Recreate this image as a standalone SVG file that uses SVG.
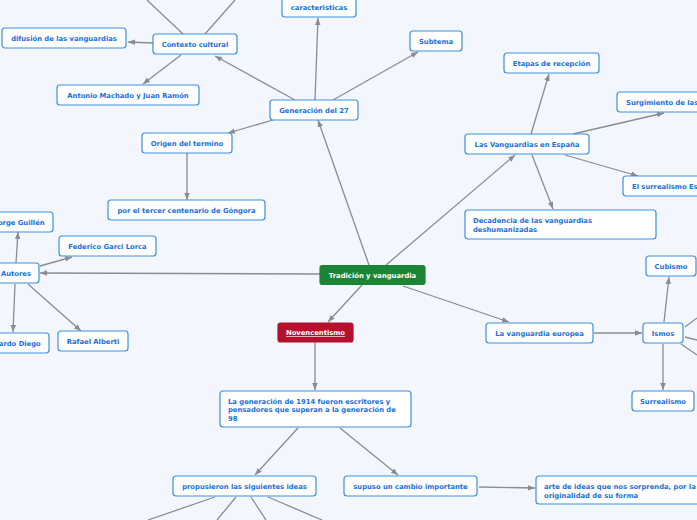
<svg xmlns="http://www.w3.org/2000/svg" width="697" height="520" viewBox="0 0 697 520">
<defs>
<style>
.n rect{fill:#ffffff;stroke:#3d8fe2;stroke-width:1.2}
.n text{font-family:"DejaVu Sans",Verdana,sans-serif;font-weight:bold;font-size:6.8px;fill:#1a6fd8}
.c{text-anchor:middle}
.g rect{fill:#1b8535;stroke:#1b8535}
.r rect{fill:#b5102c;stroke:#b5102c}
.g text,.r text{fill:#ffffff}
#connectors line{stroke:#8c8c8c;stroke-width:1.3;fill:none}
.a{marker-end:url(#ah)}
</style>
<marker id="ah" markerUnits="userSpaceOnUse" markerWidth="8" markerHeight="6" refX="7" refY="2.75" orient="auto">
<path d="M0,0 L7,2.75 L0,5.5 z" fill="#8c8c8c"/>
</marker>
</defs>
<rect x="0" y="0" width="697" height="520" fill="#f3f6fd"/>
<g id="connectors">
<line class="a" x1="369" y1="265" x2="318" y2="120"/>
<line class="a" x1="386" y1="265" x2="515" y2="155"/>
<line class="a" x1="320" y1="274" x2="40" y2="273"/>
<line class="a" x1="362" y1="285" x2="328" y2="322"/>
<line class="a" x1="403" y1="286" x2="509" y2="322"/>
<line class="a" x1="315" y1="100" x2="318" y2="18"/>
<line class="a" x1="333" y1="100" x2="418" y2="52"/>
<line class="a" x1="295" y1="100" x2="215" y2="56"/>
<line class="a" x1="273" y1="120" x2="228" y2="133"/>
<line class="a" x1="153" y1="43" x2="128" y2="42"/>
<line class="a" x1="181" y1="55" x2="143" y2="84"/>
<line x1="183" y1="34" x2="147" y2="0"/>
<line x1="205" y1="34" x2="235" y2="0"/>
<line class="a" x1="187" y1="153" x2="187" y2="200"/>
<line class="a" x1="16" y1="263" x2="18" y2="232"/>
<line class="a" x1="40" y1="266" x2="72" y2="257"/>
<line class="a" x1="15" y1="284" x2="13" y2="332"/>
<line class="a" x1="28" y1="284" x2="81" y2="331"/>
<line class="a" x1="531" y1="134" x2="549" y2="74"/>
<line class="a" x1="573" y1="134" x2="664" y2="113"/>
<line class="a" x1="565" y1="155" x2="638" y2="176"/>
<line class="a" x1="532" y1="155" x2="553" y2="209"/>
<line class="a" x1="315" y1="342" x2="315" y2="390"/>
<line class="a" x1="594" y1="333" x2="642" y2="333"/>
<line class="a" x1="664" y1="322" x2="669" y2="277"/>
<line class="a" x1="663" y1="344" x2="663" y2="390"/>
<line x1="685" y1="327" x2="697" y2="318"/>
<line x1="685" y1="337" x2="697" y2="340"/>
<line x1="681" y1="344" x2="697" y2="355"/>
<line class="a" x1="298" y1="428" x2="255" y2="475"/>
<line class="a" x1="340" y1="428" x2="398" y2="475"/>
<line class="a" x1="479" y1="487" x2="535" y2="488"/>
<line x1="215" y1="497" x2="148" y2="520"/>
<line x1="236" y1="497" x2="217" y2="520"/>
<line x1="251" y1="497" x2="266" y2="520"/>
<line x1="268" y1="497" x2="322" y2="520"/>
</g>
<g id="n-tradicion" class="n g"><rect x="320" y="265.5" width="105" height="19" rx="2.5"/><text class="c" x="372.5" y="277.5">Tradición y vanguardia</text></g>
<g id="n-novencentismo" class="n r"><rect x="278" y="323" width="75" height="19" rx="2.5"/><text class="c" x="315.5" y="335" text-decoration="underline">Novencentismo</text></g>
<g id="n-gen27" class="n"><rect x="270" y="100" width="88" height="20" rx="3"/><text class="c" x="314" y="112.5">Generación del 27</text></g>
<g id="n-caracteristicas" class="n"><rect x="282" y="-3" width="74" height="20" rx="3"/><text class="c" x="319" y="10">caracteristicas</text></g>
<g id="n-subtema" class="n"><rect x="410" y="31" width="52" height="20" rx="3"/><text class="c" x="436" y="43.5">Subtema</text></g>
<g id="n-contexto" class="n"><rect x="153" y="34" width="84" height="20" rx="3"/><text class="c" x="195" y="46.5">Contexto cultural</text></g>
<g id="n-difusion" class="n"><rect x="2" y="28" width="124" height="20" rx="3"/><text class="c" x="64" y="40.5">difusión de las vanguardias</text></g>
<g id="n-machado" class="n"><rect x="57" y="85" width="142" height="20" rx="3"/><text class="c" x="128" y="97.5">Antonio Machado y Juan Ramón</text></g>
<g id="n-origen" class="n"><rect x="142" y="133" width="90" height="20" rx="3"/><text class="c" x="187" y="145.5">Origen del termino</text></g>
<g id="n-gongora" class="n"><rect x="108" y="200" width="157" height="20" rx="3"/><text class="c" x="186.5" y="212.5">por el tercer centenario de Góngora</text></g>
<g id="n-guillen" class="n"><rect x="-13" y="212" width="66" height="20" rx="3"/><text class="c" x="20" y="224.5">Jorge Guillén</text></g>
<g id="n-lorca" class="n"><rect x="59" y="236" width="97" height="20" rx="3"/><text class="c" x="107.5" y="248.5">Federico Garci Lorca</text></g>
<g id="n-autores" class="n"><rect x="-7" y="263" width="46" height="20" rx="3"/><text class="c" x="16" y="275.5">Autores</text></g>
<g id="n-diego" class="n"><rect x="-23" y="333" width="72" height="20" rx="3"/><text class="c" x="13" y="345.5">Gerardo Diego</text></g>
<g id="n-alberti" class="n"><rect x="58" y="331" width="70" height="20" rx="3"/><text class="c" x="93" y="343.5">Rafael Alberti</text></g>
<g id="n-espana" class="n"><rect x="465" y="134" width="124" height="20" rx="3"/><text class="c" x="527" y="146.5">Las Vanguardias en España</text></g>
<g id="n-etapas" class="n"><rect x="504" y="53" width="95" height="20" rx="3"/><text class="c" x="551.5" y="65.5">Etapas de recepción</text></g>
<g id="n-surgimiento" class="n"><rect x="617" y="92" width="130" height="20" rx="3"/><text x="626" y="104.5">Surgimiento de las</text></g>
<g id="n-surrealismo-es" class="n"><rect x="623" y="176" width="120" height="20" rx="3"/><text x="632" y="188.5">El surrealismo Es</text></g>
<g id="n-decadencia" class="n"><rect x="465" y="210" width="191" height="29" rx="3"/><text x="473" y="223">Decadencia de las vanguardias</text><text x="473" y="232">deshumanizadas</text></g>
<g id="n-europea" class="n"><rect x="486" y="323" width="107" height="20" rx="3"/><text class="c" x="539.5" y="335.5">La vanguardia europea</text></g>
<g id="n-ismos" class="n"><rect x="643" y="323" width="40" height="20" rx="3"/><text class="c" x="663" y="335.5">Ismos</text></g>
<g id="n-cubismo" class="n"><rect x="646" y="256" width="50" height="20" rx="3"/><text class="c" x="671" y="268.5">Cubismo</text></g>
<g id="n-surrealismo" class="n"><rect x="632" y="391" width="62" height="20" rx="3"/><text class="c" x="663" y="403.5">Surrealismo</text></g>
<g id="n-gen1914" class="n"><rect x="220" y="391" width="191" height="36" rx="3"/><text x="228" y="404">La generación de 1914 fueron escritores y</text><text x="228" y="412.3">pensadores que superan a la generación de</text><text x="228" y="420.6">98</text></g>
<g id="n-propusieron" class="n"><rect x="173" y="476" width="143" height="20" rx="3"/><text class="c" x="244.5" y="488.5">propusieron las siguientes ideas</text></g>
<g id="n-supuso" class="n"><rect x="344" y="476" width="133" height="20" rx="3"/><text class="c" x="410.5" y="488.5">supuso un cambio importante</text></g>
<g id="n-arte" class="n"><rect x="536" y="476" width="180" height="28" rx="3"/><text x="544" y="489">arte de ideas que nos sorprenda, por la</text><text x="544" y="497.5">originalidad de su forma</text></g>
</svg>
